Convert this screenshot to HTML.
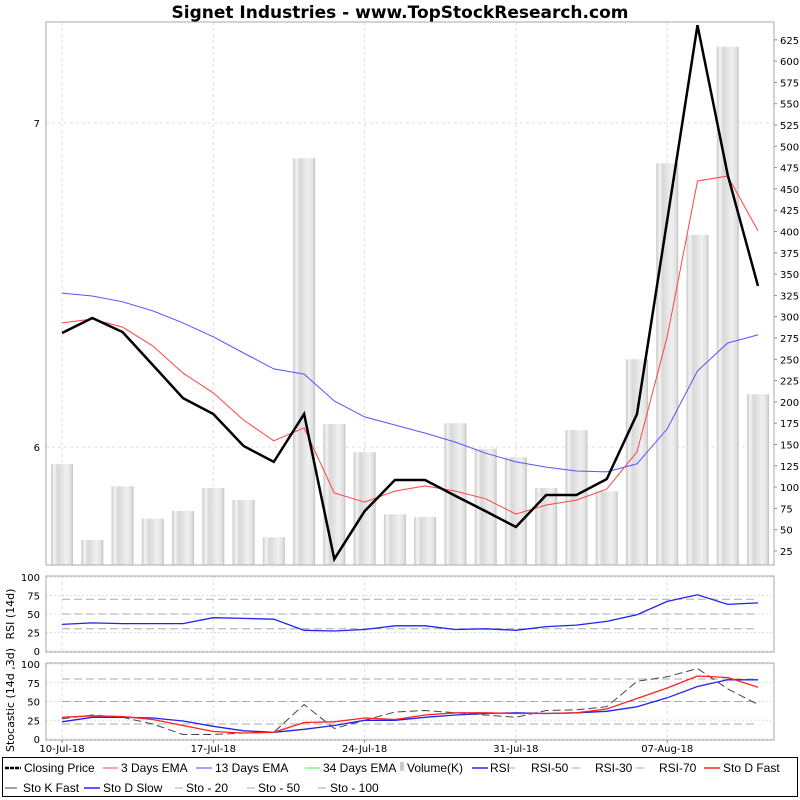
<!DOCTYPE html>
<html><head><meta charset="utf-8"><style>
html,body{margin:0;background:#fff;overflow:hidden;width:800px;height:800px;}
svg{display:block;font-family:"DejaVu Sans","Liberation Sans",sans-serif;}
</style></head><body>
<svg id="c" width="800" height="800" xmlns="http://www.w3.org/2000/svg">
<defs>
<linearGradient id="vg" x1="0" x2="1" y1="0" y2="0">
<stop offset="0" stop-color="#c8c8c8"/><stop offset="0.15" stop-color="#f4f4f4"/><stop offset="0.3" stop-color="#d8d8d8"/><stop offset="0.7" stop-color="#f0f0f0"/><stop offset="0.9" stop-color="#e0e0e0"/><stop offset="1" stop-color="#c0c0c0"/>
</linearGradient>
<clipPath id="mc"><rect x="46" y="22" width="728" height="543"/></clipPath>
</defs>
<text x="400" y="18" text-anchor="middle" font-size="17" font-weight="bold">Signet Industries - www.TopStockResearch.com</text>
<g id="g"></g>
</svg>
<script>
const dates=["10-Jul-18","","","","","17-Jul-18","","","","","24-Jul-18","","","","","31-Jul-18","","","","","07-Aug-18","","",""];
const closePrice=[6.352,6.398,6.355,6.253,6.151,6.102,6.003,5.954,6.102,5.654,5.802,5.898,5.898,5.849,5.802,5.753,5.852,5.852,5.901,6.102,6.70,7.302,6.84,6.497];
const ema3=[6.383,6.395,6.370,6.312,6.228,6.167,6.083,6.019,6.059,5.858,5.830,5.864,5.880,5.864,5.840,5.793,5.821,5.836,5.870,5.985,6.340,6.821,6.836,6.667];
const ema13=[6.475,6.466,6.448,6.420,6.383,6.340,6.290,6.241,6.225,6.142,6.093,6.068,6.043,6.015,5.981,5.954,5.938,5.926,5.923,5.948,6.056,6.235,6.321,6.346];
const volume=[127,38,101,63,72,99,85,41,486,174,141,68,65,175,145,135,99,167,95,250,480,396,617,209];
const rsi=[36,38,37,37,37,45,44,43,28,27,29,34,34,29,30,28,33,35,40,49,67,76,63,65];
const stoKFast=[27,32,29,20,6,6,8,9,46,14,25,36,38,35,32,29,38,39,43,77,83,94,67,46];
const stoDFast=[29,31,30,26,18,10,8,9,22,23,28,26,32,35,35,34,34,35,40,54,68,84,82,69];
const stoDSlow=[23,29,29,28,24,17,11,9,13,18,25,25,29,32,34,35,34,35,37,43,55,70,79,79];
const volTicks=[25,50,75,100,125,150,175,200,225,250,275,300,325,350,375,400,425,450,475,500,525,550,575,600,625];
const priceTicks=[6,7];
const oscTicks=[0,25,50,75,100];

const NS="http://www.w3.org/2000/svg";
const G=document.getElementById('g');
function el(t,a,p){const e=document.createElementNS(NS,t);for(const k in a)e.setAttribute(k,a[k]);(p||G).appendChild(e);return e;}
const X=i=>62+i*(758-62)/23;
const YP=v=>123+(7-v)*324;
const YV=v=>551-(v-25)*0.852;
const YR=v=>651-v*0.74;
const YS=v=>739-v*0.75;
const L=46,R=774;
let f;
[[22,565],[576,652],[663,740]].forEach(([t,b])=>{
  dates.forEach((d,i)=>{if(d){f=el('line',{x1:X(i),x2:X(i),y1:t,y2:b,stroke:'#ddd','stroke-dasharray':'3,3'});
  }});
});
priceTicks.forEach(v=>{f=el('line',{x1:L,x2:R,y1:YP(v),y2:YP(v),stroke:'#ddd','stroke-dasharray':'3,3'});

f=el('text',{x:40,y:YP(v)+4,'text-anchor':'end','font-size':10});f.textContent=v;
});
const mg=el('g',{'clip-path':'url(#mc)'});
volume.forEach((v,i)=>{f=el('rect',{x:X(i)-11,y:YV(v),width:22,height:600,fill:'url(#vg)'},mg);
});
volTicks.forEach(v=>{el('line',{x1:R,x2:R+3,y1:YV(v),y2:YV(v),stroke:'#888'});
f=el('text',{x:780,y:YV(v)+4,'font-size':10});f.textContent=v;
});
function line(arr,fy,stroke,w,dash,name,p){
  const d=arr.map((v,i)=>(i?'L':'M')+X(i).toFixed(1)+','+fy(v).toFixed(1)).join('');
  const a={d:d,fill:'none',stroke:stroke,'stroke-width':w};if(dash)a['stroke-dasharray']=dash;
  const e=el('path',a,p);
}
line(ema13,YP,'#5555ff',1,null,'ema13-line',mg);
line(ema3,YP,'#ff4444',1,null,'ema3-line',mg);
line(closePrice,YP,'#000',2.5,null,'closing-price-line',mg);
f=el('rect',{x:L,y:22,width:R-L,height:543,fill:'none',stroke:'#aaa'});


oscTicks.forEach(v=>{el('line',{x1:L,x2:R,y1:YR(v),y2:YR(v),stroke:'#ddd','stroke-dasharray':'2,2'});
f=el('text',{x:40,y:YR(v)+4,'text-anchor':'end','font-size':10});f.textContent=v;
});
[30,50,70].forEach(v=>{f=el('line',{x1:62,x2:758,y1:YR(v),y2:YR(v),stroke:'#aaa','stroke-dasharray':'8,4'});
});
line(rsi,YR,'#2222ee',1.3,null,'rsi-line');
f=el('rect',{x:L,y:576,width:R-L,height:76,fill:'none',stroke:'#aaa'});

f=el('text',{x:0,y:0,'font-size':11,transform:'translate(14,614) rotate(-90)','text-anchor':'middle'});f.textContent='RSI (14d)';


oscTicks.forEach(v=>{el('line',{x1:L,x2:R,y1:YS(v),y2:YS(v),stroke:'#ddd','stroke-dasharray':'2,2'});
f=el('text',{x:40,y:YS(v)+4,'text-anchor':'end','font-size':10});f.textContent=v;
});
[20,50,80].forEach(v=>{f=el('line',{x1:62,x2:758,y1:YS(v),y2:YS(v),stroke:'#aaa','stroke-dasharray':'8,4'});
});
line(stoKFast,YS,'#444',1,'8,4','sto-k-fast-line');
line(stoDSlow,YS,'#2222ee',1.3,null,'sto-d-slow-line');
line(stoDFast,YS,'#ff2222',1.3,null,'sto-d-fast-line');
f=el('rect',{x:L,y:663,width:R-L,height:77,fill:'none',stroke:'#aaa'});

f=el('text',{x:0,y:0,'font-size':11,transform:'translate(14,700) rotate(-90)','text-anchor':'middle'});f.textContent='Stocastic (14d ,3d)';


dates.forEach((d,i)=>{if(d){el('line',{x1:X(i),x2:X(i),y1:740,y2:743,stroke:'#888'});
f=el('text',{x:X(i),y:752,'text-anchor':'middle','font-size':10});f.textContent=d;
}});

f=el('rect',{x:2.5,y:757.5,width:795,height:39,fill:'#fff',stroke:'#000'});

// [lineStart, lineEnd, textX, y, label, color, dash, width]
const leg=[
 [5,21,24,772,'Closing Price','#000','4,1',2.5],[103,118,121,772,'3 Days EMA','#f44',null,1],[196,212,215,772,'13 Days EMA','#44f',null,1],[305,320,323,772,'34 Days EMA','#4e4',null,1],
 [400,0,407,772,'Volume(K)','vol'],[472,488,490,772,'RSI','#00f',null,1.3],[507,515,531,772,'RSI-50','#aaa',null,1],[572,580,595,772,'RSI-30','#aaa',null,1],[636,644,659,772,'RSI-70','#aaa',null,1],[704,720,723,772,'Sto D Fast','#f00',null,1.3],
 [5,17,23,792,'Sto K Fast','#444',null,1],[84,100,103,792,'Sto D Slow','#00f',null,1.3],[175,183,186,792,'Sto - 20','#aaa',null,1],[247,255,258,792,'Sto - 50','#aaa',null,1],[318,326,330,792,'Sto - 100','#aaa',null,1]];
leg.forEach(([x1,x2,tx,y,t,c,dash,w])=>{
  const g=el('g',{});
  if(c==='vol')el('rect',{x:x1,y:y-10,width:4,height:9,fill:'#ccc'},g);
  else{const a={x1:x1,x2:x2,y1:y-4,y2:y-4,stroke:c,'stroke-width':w};if(dash)a['stroke-dasharray']=dash;el('line',a,g);}
  const te=el('text',{x:tx,y:y,'font-size':12,'font-family':'Liberation Sans, sans-serif'},g);te.textContent=t;
});
</script>
</body></html>
